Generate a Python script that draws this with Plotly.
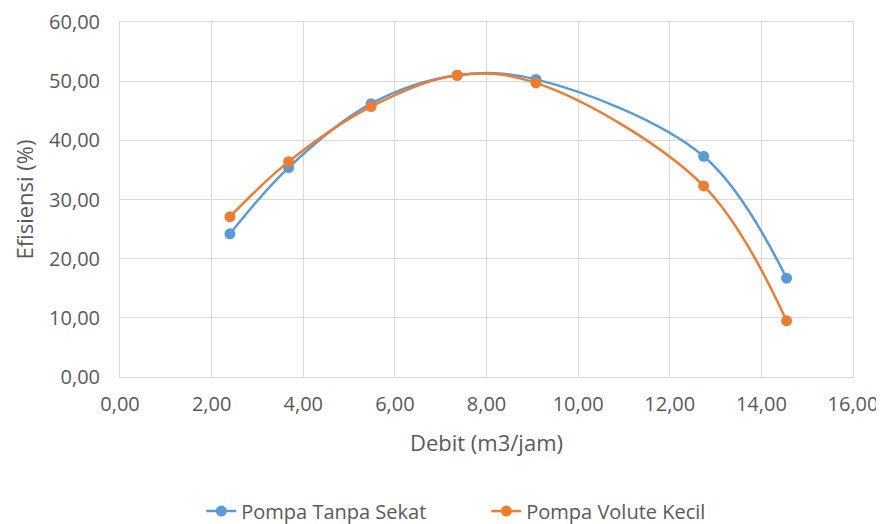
import plotly.graph_objects as go

# data
debit = [2.40, 3.68, 5.48, 7.36, 9.08, 12.74, 14.55]
efisiensi_tanpa_sekat = [24.2, 35.4, 46.2, 51.0, 50.3, 37.3, 16.7]
efisiensi_volute_kecil = [27.1, 36.4, 45.7, 51.0, 49.7, 32.3, 9.5]

nama_seri = ["Pompa Tanpa Sekat", "Pompa Volute Kecil"]
warna = ["#5B9BD5", "#ED7D31"]

fig = go.Figure()
for nama, y, c in zip(nama_seri, [efisiensi_tanpa_sekat, efisiensi_volute_kecil], warna):
    fig.add_trace(go.Scatter(
        x=debit, y=y, name=nama,
        mode="lines+markers",
        line=dict(color=c, width=2.5, shape="spline", smoothing=1.0),
        marker=dict(color=c, size=11),
    ))

grid = "#D9D9D9"
teks = "#595959"

# page body adds ~8px offset, so the figure is sized to fit the window
fig.update_layout(
    width=876, height=516,
    margin=dict(l=112, r=31, t=14, b=147),
    paper_bgcolor="white", plot_bgcolor="white",
    separators=",.",
    font=dict(family="Open Sans, sans-serif", size=20, color=teks),
    showlegend=True,
    legend=dict(orientation="h", x=0.546, xanchor="center", xref="container",
                yref="container", y=0.025, yanchor="middle",
                font=dict(size=20, color=teks), itemwidth=30,
                entrywidth=240, entrywidthmode="pixels"),
    annotations=[dict(
        text="Efisiensi (%)", textangle=-90,
        xref="paper", yref="paper", x=-0.1323, y=0.5,
        xanchor="center", yanchor="middle", showarrow=False,
        font=dict(size=22, color=teks),
    )],
)
fig.update_xaxes(
    range=[0, 16], dtick=2, tickformat=".2f", automargin=False,
    ticklabeloverflow="allow",
    showgrid=True, gridcolor=grid, gridwidth=1,
    showline=True, linecolor=grid, mirror=True, zeroline=False,
    ticks="", ticklabelstandoff=9,
    title=dict(text="Debit (m3/jam)", font=dict(size=22, color=teks), standoff=19),
)
fig.update_yaxes(
    range=[0, 60], dtick=10, tickformat=".2f", automargin=False,
    ticklabeloverflow="allow",
    showgrid=True, gridcolor=grid, gridwidth=1,
    showline=True, linecolor=grid, mirror=True, zeroline=False,
    ticks="", ticklabelstandoff=15,
)

fig.write_html("out.html")
